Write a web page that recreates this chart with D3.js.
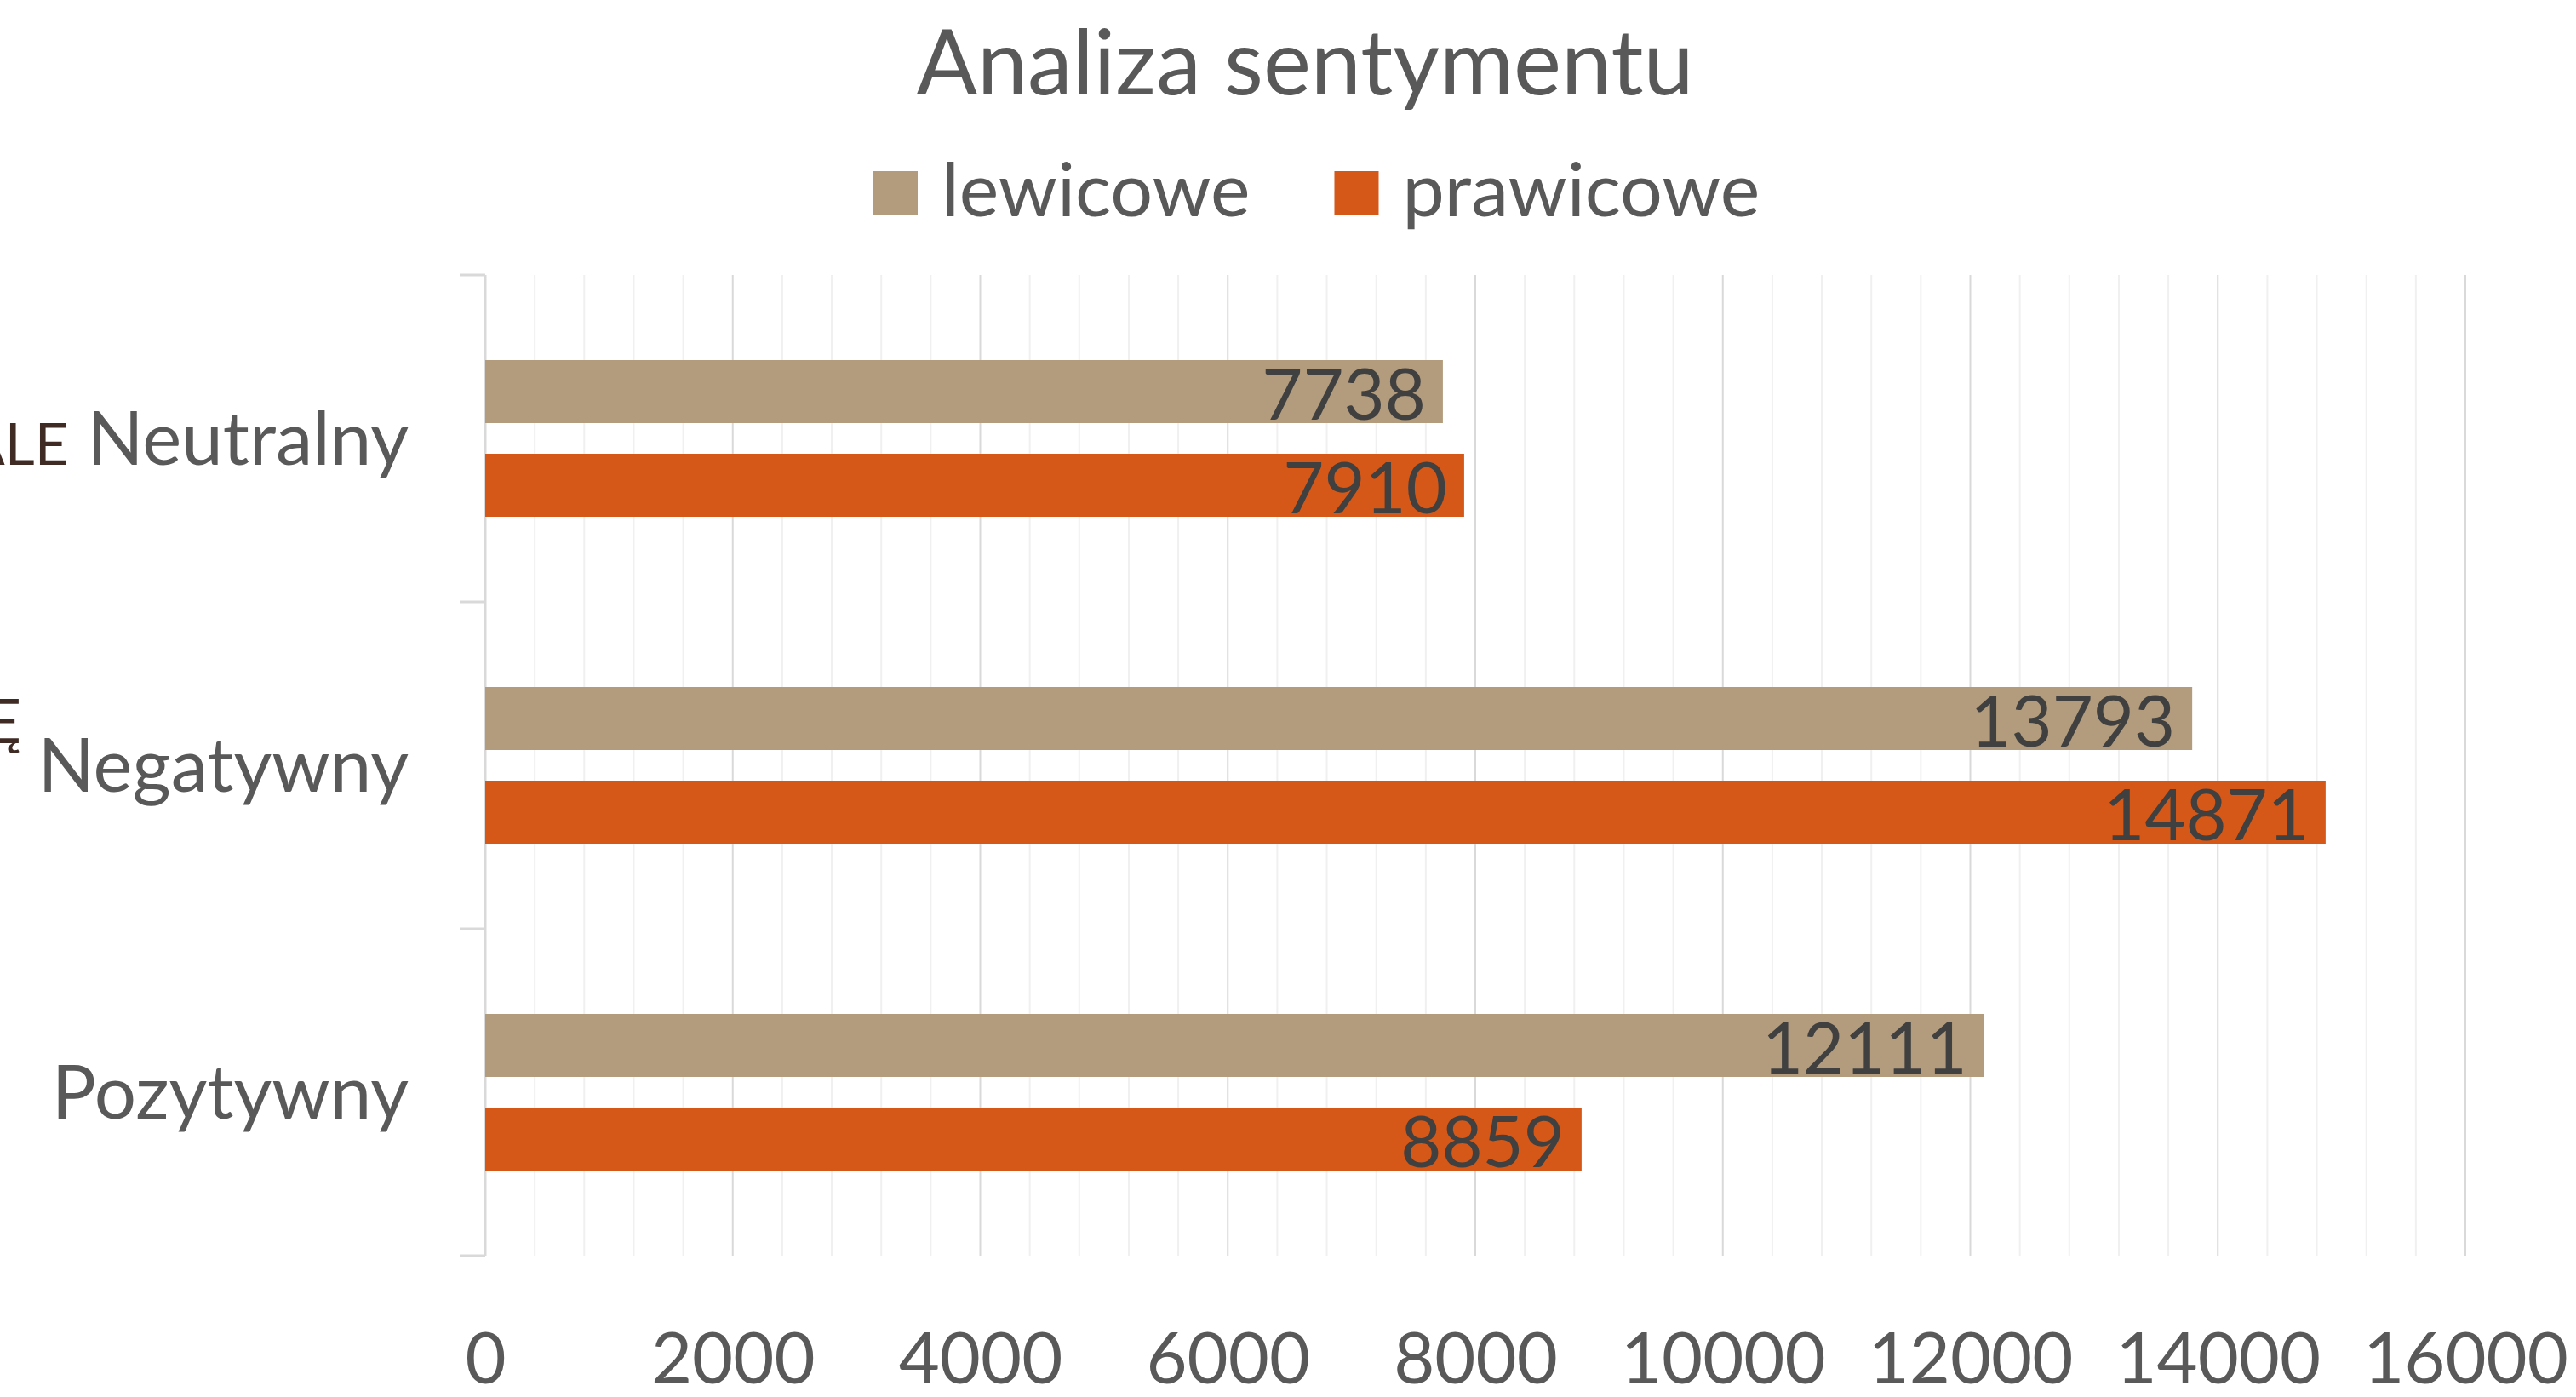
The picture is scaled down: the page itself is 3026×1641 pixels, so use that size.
<!DOCTYPE html>
<html>
<head>
<meta charset="utf-8">
<script src="https://cdn.jsdelivr.net/npm/d3@7"></script>
<style>
  html, body { margin: 0; padding: 0; background: #fff; }
  svg { display: block; font-family: Lato, "Open Sans", sans-serif; }
</style>
</head>
<body>
<svg id="chart"></svg>
<script>
// chart data
const title = "Analiza sentymentu"
const categories = ["Neutralny", "Negatywny", "Pozytywny"]
const seriesNames = ["lewicowe", "prawicowe"]
const lewicowe = [7738, 13793, 12111]
const prawicowe = [7910, 14871, 8859]
const xTicks = [0, 2000, 4000, 6000, 8000, 10000, 12000, 14000, 16000]
// clipped second level labels visible at the left edge
const clippedLabels = ["ALE", "Ę"]

const colors = ["#b39c7d", "#d55818"]

const w = 3026
const h = 1641
const plotLeft = 570
const plotRight = 2896
const plotTop = 323
const plotBottom = 1475

const svg = d3.select("#chart")
    .attr("width", w)
    .attr("height", h)

const xScale = d3.scaleLinear()
    .domain([0, 16000])
    .range([plotLeft, plotRight])

const yScale = d3.scaleBand()
    .domain(categories)
    .range([plotTop, plotBottom])

// two bars in each band
const innerScale = d3.scaleBand()
    .domain(seriesNames)
    .range([100, yScale.bandwidth() - 100])
    .paddingInner(36 / 110)

// minor and major gridlines
svg.append("g")
    .selectAll("line")
    .data(d3.range(0, 16001, 400))
    .enter()
    .append("line")
    .attr("x1", d => xScale(d))
    .attr("x2", d => xScale(d))
    .attr("y1", plotTop)
    .attr("y2", plotBottom)
    .attr("stroke", d => d % 2000 === 0 ? "#d9d9d9" : "#f0f0f0")
    .attr("stroke-width", 2)

// category axis line and tick marks on band edges
svg.append("line")
    .attr("x1", plotLeft).attr("x2", plotLeft)
    .attr("y1", plotTop).attr("y2", plotBottom)
    .attr("stroke", "#d9d9d9")
    .attr("stroke-width", 3)

const edges = categories.map(c => yScale(c)).concat([plotBottom])
svg.append("g")
    .selectAll("line")
    .data(edges)
    .enter()
    .append("line")
    .attr("x1", plotLeft - 30).attr("x2", plotLeft)
    .attr("y1", d => d).attr("y2", d => d)
    .attr("stroke", "#d9d9d9")
    .attr("stroke-width", 3)

// bars
const rows = categories.map((c, i) => ({cat: c, values: [lewicowe[i], prawicowe[i]]}))

const groups = svg.append("g")
    .selectAll("g")
    .data(rows)
    .enter()
    .append("g")
    .attr("transform", d => `translate(0, ${yScale(d.cat)})`)

groups.selectAll("rect")
    .data(d => d.values.map((v, j) => ({name: seriesNames[j], value: v, j: j})))
    .enter()
    .append("rect")
    .attr("x", xScale(0))
    .attr("y", d => innerScale(d.name))
    .attr("width", d => xScale(d.value) - xScale(0))
    .attr("height", innerScale.bandwidth())
    .attr("fill", d => colors[d.j])

// data labels inside bar ends
groups.selectAll("text")
    .data(d => d.values.map((v, j) => ({name: seriesNames[j], value: v})))
    .enter()
    .append("text")
    .attr("x", d => xScale(d.value) - 20)
    .attr("y", d => innerScale(d.name) + innerScale.bandwidth() / 2 + 33)
    .attr("text-anchor", "end")
    .attr("font-size", 83)
    .attr("fill", "#404040")
    .text(d => d.value)

// category labels
const axisLeft = d3.axisLeft(yScale).tickSize(0).tickPadding(90)
const yAxis = svg.append("g")
    .attr("transform", `translate(${plotLeft}, 0)`)
    .call(axisLeft)
yAxis.select(".domain").remove()
yAxis.selectAll("text")
    .attr("font-family", "Lato, sans-serif")
    .attr("font-size", 87)
    .attr("fill", "#595959")
    .attr("dy", 31)

// the clipped labels at the left edge
svg.append("text")
    .attr("x", 80).attr("y", yScale("Neutralny") + yScale.bandwidth() / 2 + 31)
    .attr("text-anchor", "end")
    .attr("font-size", 68)
    .attr("fill", "#3f2b24")
    .text(clippedLabels[0])

svg.append("text")
    .attr("x", 25).attr("y", yScale("Negatywny") + yScale.bandwidth() / 2 - 26)
    .attr("text-anchor", "end")
    .attr("font-size", 72)
    .attr("fill", "#3f2b24")
    .text(clippedLabels[1])

// value axis labels
const axisBottom = d3.axisBottom(xScale).tickValues(xTicks).tickSize(0).tickFormat(d3.format("d"))
const xAxis = svg.append("g")
    .attr("transform", `translate(0, ${plotBottom})`)
    .call(axisBottom)
xAxis.select(".domain").remove()
xAxis.selectAll("text")
    .attr("font-family", "Lato, sans-serif")
    .attr("font-size", 83)
    .attr("fill", "#595959")
    .attr("y", 150)
    .attr("dy", 0)

// title
svg.append("text")
    .attr("x", 1533)
    .attr("y", 111)
    .attr("text-anchor", "middle")
    .attr("font-size", 106)
    .attr("fill", "#595959")
    .text(title)

// legend
const legend = svg.append("g")
let lx = 1026
seriesNames.forEach((name, i) => {
    legend.append("rect")
        .attr("x", lx).attr("y", 201)
        .attr("width", 52).attr("height", 52)
        .attr("fill", colors[i])
    const t = legend.append("text")
        .attr("x", lx + 80).attr("y", 254)
        .attr("font-size", 88)
        .attr("fill", "#595959")
        .text(name)
    lx = lx + 80 + t.node().getComputedTextLength() + 99
})
</script>
</body>
</html>
